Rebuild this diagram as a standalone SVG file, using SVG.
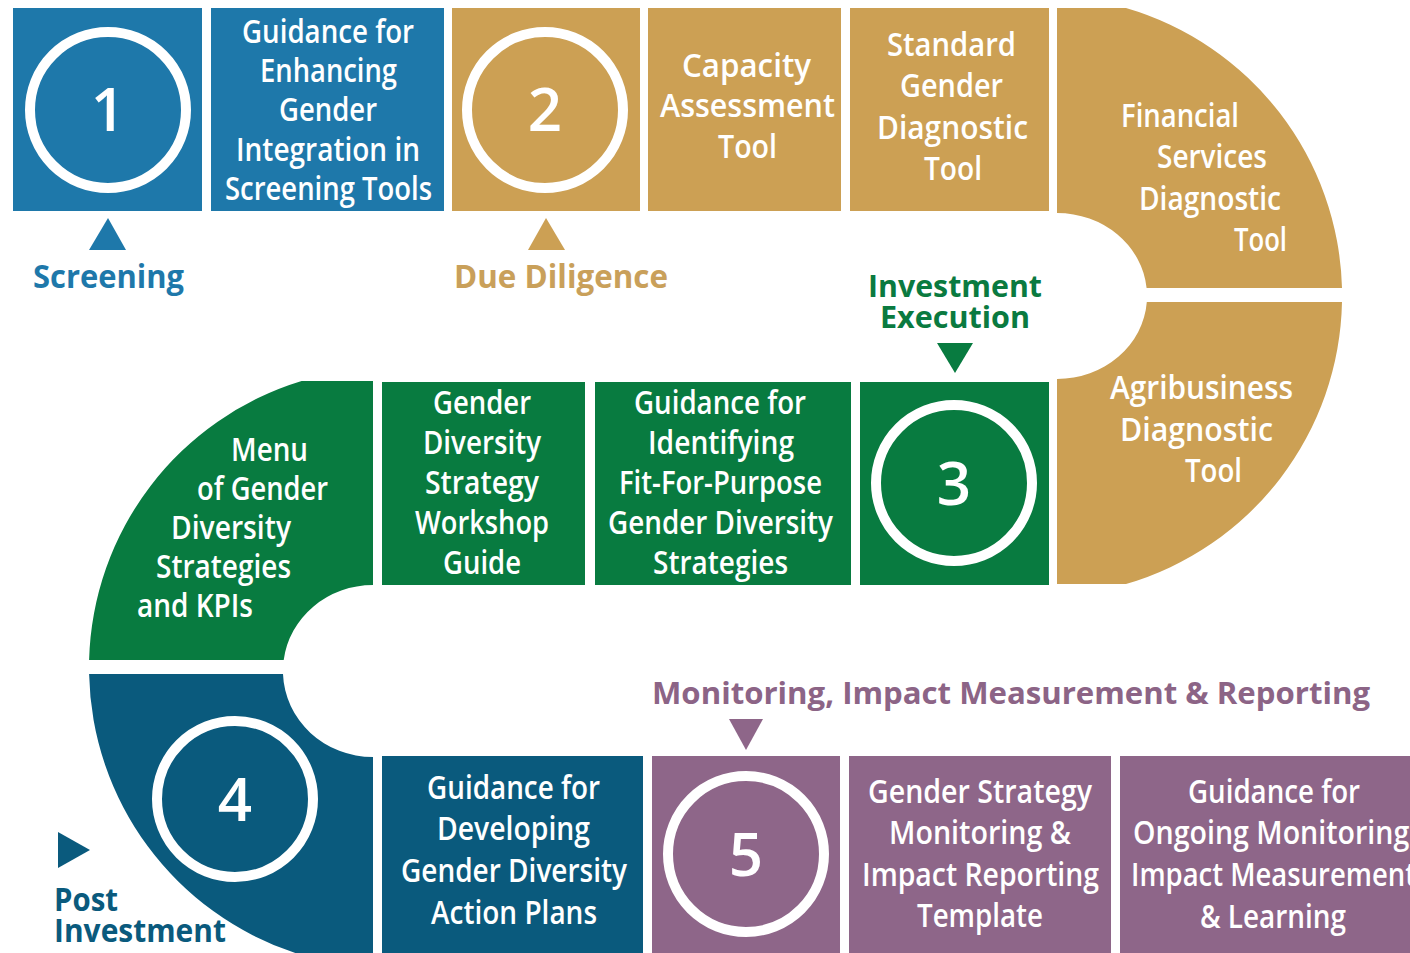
<svg xmlns="http://www.w3.org/2000/svg" width="1410" height="953" viewBox="0 0 1410 953">
<defs>
<style>
.t{font-family:"Open Sans","Noto Sans","Liberation Sans",sans-serif;font-weight:600;font-size:32px;fill:#ffffff}
.num{font-family:"Open Sans","Noto Sans","Liberation Sans",sans-serif;font-weight:600;font-size:60px;fill:#ffffff;text-anchor:middle}
.lab{font-family:"Open Sans","Noto Sans","Liberation Sans",sans-serif;font-weight:700;font-size:33px}
.ring{fill:none;stroke:#ffffff;stroke-width:10}
.blue{fill:#1e78aa}
.gold{fill:#cca054}
.green{fill:#087b40}
.dblue{fill:#0a5a7d}
.purple{fill:#8e6689}
</style>
</defs>
<rect width="1410" height="953" fill="#ffffff"/>

<g id="connectors">
<polygon class="blue" points="89,250 126,250 108,218"/>
<polygon class="gold" points="528,250 565,250 546,218"/>
<polygon class="green" points="937,343 973,343 955,373"/>
<polygon class="purple" points="729,719 763,719 746,750"/>
<polygon class="dblue" points="58,832 58,868 90,850"/>
</g>

<g id="step1">
<rect class="blue" x="13" y="8" width="189" height="203"/>
<circle class="ring" cx="108" cy="110" r="78"/>
<text class="num" x="108" y="131">1</text>
</g>
<g id="screening-guidance">
<rect class="blue" x="211" y="8" width="233" height="203"/>
<text class="t" lengthAdjust="spacingAndGlyphs" x="242" y="43" textLength="172">Guidance for</text>
<text class="t" lengthAdjust="spacingAndGlyphs" x="260" y="82" textLength="137">Enhancing</text>
<text class="t" lengthAdjust="spacingAndGlyphs" x="279" y="121" textLength="98">Gender</text>
<text class="t" lengthAdjust="spacingAndGlyphs" x="236" y="161" textLength="184">Integration in</text>
<text class="t" lengthAdjust="spacingAndGlyphs" x="225" y="200" textLength="207">Screening Tools</text>
</g>
<g id="screening-label">
<text class="lab" fill="#1e78aa" lengthAdjust="spacingAndGlyphs" x="33" y="288" textLength="151">Screening</text>
</g>

<g id="step2">
<rect class="gold" x="452" y="8" width="188" height="203"/>
<circle class="ring" cx="545" cy="110" r="78"/>
<text class="num" x="545" y="131">2</text>
</g>
<g id="due-diligence-label">
<text class="lab" fill="#c9a05a" lengthAdjust="spacingAndGlyphs" x="454" y="288" textLength="214">Due Diligence</text>
</g>
<g id="capacity">
<rect class="gold" x="648" y="8" width="193" height="203"/>
<text class="t" lengthAdjust="spacingAndGlyphs" x="682" y="77" textLength="129">Capacity</text>
<text class="t" lengthAdjust="spacingAndGlyphs" x="660" y="117" textLength="175">Assessment</text>
<text class="t" lengthAdjust="spacingAndGlyphs" x="718" y="158" textLength="59">Tool</text>
</g>
<g id="standard">
<rect class="gold" x="850" y="8" width="199" height="203"/>
<text class="t" lengthAdjust="spacingAndGlyphs" x="887" y="56" textLength="129">Standard</text>
<text class="t" lengthAdjust="spacingAndGlyphs" x="900" y="97" textLength="103">Gender</text>
<text class="t" lengthAdjust="spacingAndGlyphs" x="877" y="139" textLength="151">Diagnostic</text>
<text class="t" lengthAdjust="spacingAndGlyphs" x="924" y="180" textLength="58">Tool</text>
</g>
<g id="financial">
<path class="gold" d="M1057,8 L1126,8 A300,300 0 0 1 1342,288 L1146.6,288 A90,83 0 0 0 1057,213 Z"/>
<text class="t" lengthAdjust="spacingAndGlyphs" x="1121" y="127" textLength="118">Financial</text>
<text class="t" lengthAdjust="spacingAndGlyphs" x="1157" y="168" textLength="110">Services</text>
<text class="t" lengthAdjust="spacingAndGlyphs" x="1139" y="210" textLength="142">Diagnostic</text>
<text class="t" lengthAdjust="spacingAndGlyphs" x="1234" y="251" textLength="53">Tool</text>
</g>
<g id="agribusiness">
<path class="gold" d="M1057,584 L1126,584 A300,300 0 0 0 1342,302 L1146.8,302 A90,83 0 0 1 1057,379 Z"/>
<text class="t" lengthAdjust="spacingAndGlyphs" x="1110" y="399" textLength="183">Agribusiness</text>
<text class="t" lengthAdjust="spacingAndGlyphs" x="1120" y="441" textLength="153">Diagnostic</text>
<text class="t" lengthAdjust="spacingAndGlyphs" x="1185" y="482" textLength="57">Tool</text>
</g>

<g id="investment-label">
<text class="lab" fill="#0a7a40" style="font-size:31px" lengthAdjust="spacingAndGlyphs" x="868" y="297" textLength="174">Investment</text>
<text class="lab" fill="#0a7a40" style="font-size:31px" lengthAdjust="spacingAndGlyphs" x="880" y="328" textLength="150">Execution</text>
</g>
<g id="step3">
<rect class="green" x="860" y="382" width="189" height="203"/>
<circle class="ring" cx="954" cy="483" r="78"/>
<text class="num" x="954" y="505">3</text>
</g>
<g id="identifying">
<rect class="green" x="595" y="382" width="256" height="203"/>
<text class="t" lengthAdjust="spacingAndGlyphs" x="634" y="414" textLength="172">Guidance for</text>
<text class="t" lengthAdjust="spacingAndGlyphs" x="648" y="454" textLength="146">Identifying</text>
<text class="t" lengthAdjust="spacingAndGlyphs" x="619" y="494" textLength="203">Fit-For-Purpose</text>
<text class="t" lengthAdjust="spacingAndGlyphs" x="608" y="534" textLength="225">Gender Diversity</text>
<text class="t" lengthAdjust="spacingAndGlyphs" x="653" y="574" textLength="135">Strategies</text>
</g>
<g id="workshop">
<rect class="green" x="382" y="382" width="203" height="203"/>
<text class="t" lengthAdjust="spacingAndGlyphs" x="433" y="414" textLength="98">Gender</text>
<text class="t" lengthAdjust="spacingAndGlyphs" x="423" y="454" textLength="118">Diversity</text>
<text class="t" lengthAdjust="spacingAndGlyphs" x="425" y="494" textLength="114">Strategy</text>
<text class="t" lengthAdjust="spacingAndGlyphs" x="415" y="534" textLength="134">Workshop</text>
<text class="t" lengthAdjust="spacingAndGlyphs" x="443" y="574" textLength="78">Guide</text>
</g>
<g id="menu">
<path class="green" d="M373,381 L301.6,381 A300,300 0 0 0 89.1,660 L283.7,660 A90,86 0 0 1 373,585 Z"/>
<text class="t" lengthAdjust="spacingAndGlyphs" x="231" y="461" textLength="77">Menu</text>
<text class="t" lengthAdjust="spacingAndGlyphs" x="197" y="500" textLength="131">of Gender</text>
<text class="t" lengthAdjust="spacingAndGlyphs" x="171" y="539" textLength="120">Diversity</text>
<text class="t" lengthAdjust="spacingAndGlyphs" x="156" y="578" textLength="135">Strategies</text>
<text class="t" lengthAdjust="spacingAndGlyphs" x="137" y="617" textLength="116">and KPIs</text>
</g>

<g id="step4">
<path class="dblue" d="M89.1,674 A300,300 0 0 0 295.3,953 L373,953 L373,757 A90,86 0 0 1 283,674 Z"/>
<circle class="ring" cx="235" cy="799" r="78"/>
<text class="num" x="235" y="821">4</text>
</g>
<g id="post-investment-label">
<text class="lab" fill="#0a5a7d" lengthAdjust="spacingAndGlyphs" x="54" y="911" textLength="64">Post</text>
<text class="lab" fill="#0a5a7d" lengthAdjust="spacingAndGlyphs" x="54" y="942" textLength="172">Investment</text>
</g>
<g id="action-plans">
<rect class="dblue" x="382" y="756" width="261" height="197"/>
<text class="t" lengthAdjust="spacingAndGlyphs" x="427" y="799" textLength="173">Guidance for</text>
<text class="t" lengthAdjust="spacingAndGlyphs" x="437" y="840" textLength="153">Developing</text>
<text class="t" lengthAdjust="spacingAndGlyphs" x="401" y="882" textLength="226">Gender Diversity</text>
<text class="t" lengthAdjust="spacingAndGlyphs" x="431" y="924" textLength="166">Action Plans</text>
</g>

<g id="monitoring-label">
<text class="lab" fill="#8c6486" style="font-size:31px" lengthAdjust="spacingAndGlyphs" x="652" y="704" textLength="718">Monitoring, Impact Measurement &amp; Reporting</text>
</g>
<g id="step5">
<rect class="purple" x="652" y="756" width="188" height="197"/>
<circle class="ring" cx="746" cy="854" r="78"/>
<text class="num" x="746" y="876">5</text>
</g>
<g id="reporting-template">
<rect class="purple" x="849" y="756" width="262" height="197"/>
<text class="t" lengthAdjust="spacingAndGlyphs" x="868" y="803" textLength="224">Gender Strategy</text>
<text class="t" lengthAdjust="spacingAndGlyphs" x="889" y="844" textLength="182">Monitoring &amp;</text>
<text class="t" lengthAdjust="spacingAndGlyphs" x="862" y="886" textLength="237">Impact Reporting</text>
<text class="t" lengthAdjust="spacingAndGlyphs" x="917" y="927" textLength="126">Template</text>
</g>
<g id="ongoing-guidance">
<rect class="purple" x="1120" y="756" width="300" height="197"/>
<text class="t" lengthAdjust="spacingAndGlyphs" x="1188" y="803" textLength="172">Guidance for</text>
<text class="t" lengthAdjust="spacingAndGlyphs" x="1133" y="844" textLength="284">Ongoing Monitoring,</text>
<text class="t" lengthAdjust="spacingAndGlyphs" x="1131" y="886" textLength="285">Impact Measurement</text>
<text class="t" lengthAdjust="spacingAndGlyphs" x="1200" y="928" textLength="146">&amp; Learning</text>
</g>
</svg>
